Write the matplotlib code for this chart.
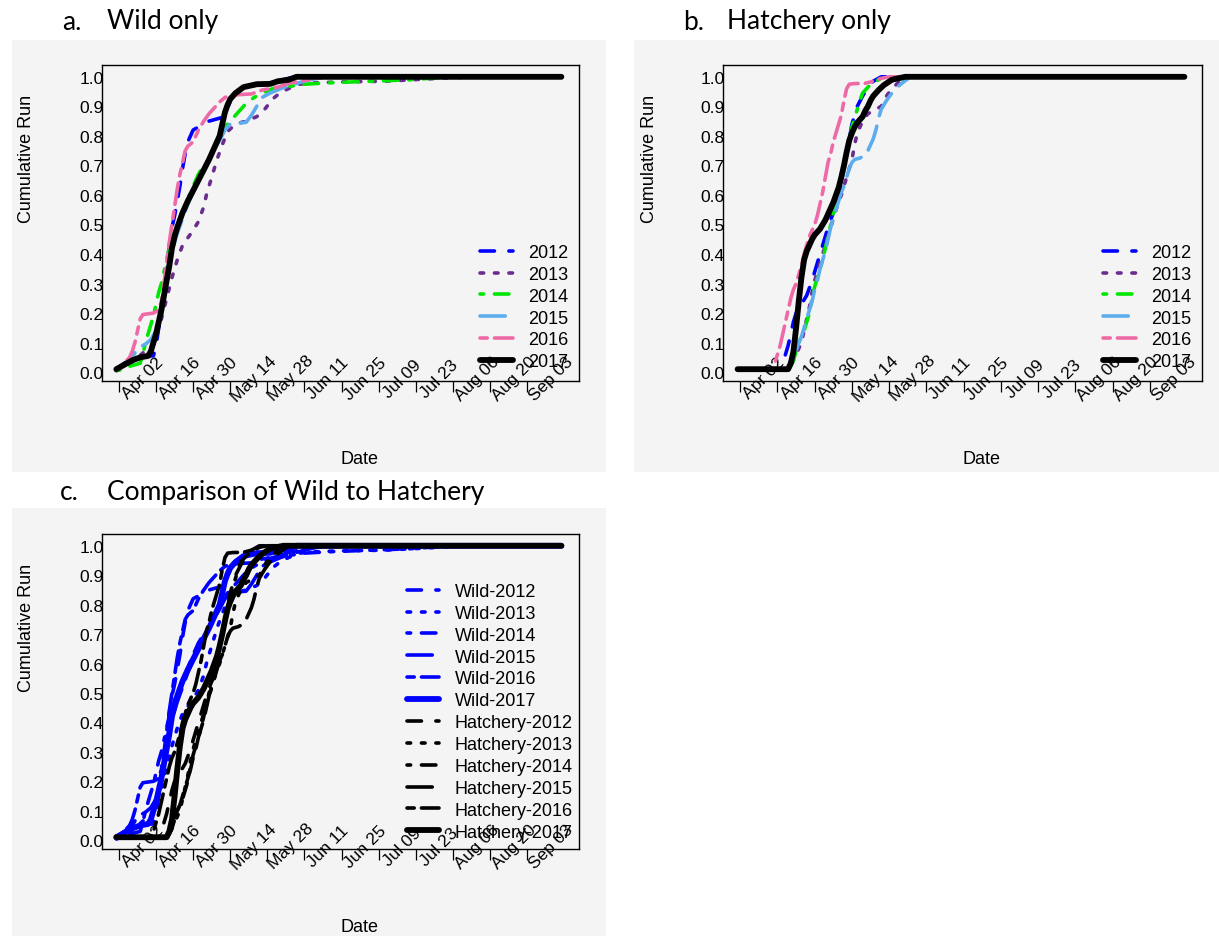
import numpy as np
import matplotlib
matplotlib.use("Agg")
import matplotlib.pyplot as plt
from matplotlib.transforms import offset_copy
from matplotlib.patches import Rectangle

plt.rcParams['font.family'] = ['Liberation Sans', 'DejaVu Sans']

# ---------------- data (day 0 = Apr 02; values = cumulative run fraction) -------------
tick_days = [0, 14, 28, 42, 56, 70, 84, 98, 112, 126, 140, 154]
tick_labels = ["Apr 02", "Apr 16", "Apr 30", "May 14", "May 28", "Jun 11",
               "Jun 25", "Jul 09", "Jul 23", "Aug 06", "Aug 20", "Sep 03"]
ytick_vals = [0.0, 0.1, 0.2, 0.3, 0.4, 0.5, 0.6, 0.7, 0.8, 0.9, 1.0]
years = ["2012", "2013", "2014", "2015", "2016", "2017"]

# Wild
wild_2012_day = [-1, 2, 5, 8, 13, 14, 15, 16, 17, 18, 19, 20, 21, 22, 23, 24, 25, 26, 27, 28,
                 30, 32, 34, 36, 38, 40, 41, 42, 44, 46, 50, 56, 60, 64, 68, 167]
wild_2012_cum = [0.01, 0.03, 0.045, 0.055, 0.055, 0.09, 0.15, 0.2, 0.27, 0.35, 0.43, 0.49, 0.53,
                 0.58, 0.63, 0.69, 0.74, 0.78, 0.80, 0.82, 0.83, 0.84, 0.85, 0.855, 0.86, 0.865,
                 0.89, 0.92, 0.945, 0.96, 0.97, 0.975, 0.985, 0.995, 1.0, 1.0]

wild_2013_day = [-1, 3, 6, 9, 12, 14, 16, 18, 20, 22, 24, 26, 28, 30, 32, 33, 35, 37, 39, 41,
                 44, 48, 52, 55, 58, 61, 64, 68, 75, 85, 100, 115, 125, 135, 167]
wild_2013_cum = [0.005, 0.02, 0.04, 0.065, 0.08, 0.12, 0.18, 0.25, 0.32, 0.38, 0.43, 0.455, 0.48,
                 0.51, 0.56, 0.60, 0.66, 0.72, 0.77, 0.815, 0.84, 0.85, 0.865, 0.89, 0.925, 0.947,
                 0.96, 0.975, 0.98, 0.983, 0.985, 0.992, 0.997, 1.0, 1.0]

wild_2014_day = [-1, 2, 4, 8, 9, 10, 11, 12, 13, 14, 15, 16, 17, 18, 19, 20, 22, 24, 26, 28,
                 30, 32, 34, 36, 38, 40, 42, 44, 46, 48, 51, 54, 58, 64, 70, 80, 95, 110, 125, 167]
wild_2014_cum = [0.005, 0.01, 0.02, 0.03, 0.06, 0.10, 0.13, 0.16, 0.19, 0.23, 0.27, 0.30, 0.34,
                 0.38, 0.42, 0.45, 0.50, 0.54, 0.585, 0.63, 0.67, 0.70, 0.72, 0.76, 0.80, 0.83,
                 0.85, 0.87, 0.89, 0.91, 0.93, 0.945, 0.96, 0.967, 0.975, 0.98, 0.985, 0.99, 1.0, 1.0]

wild_2015_day = [-1, 2, 5, 7, 10, 12, 14, 16, 17, 18, 19, 20, 22, 24, 26, 28, 30, 32, 34, 36,
                 38, 40, 42, 48, 50, 52, 54, 57, 61, 66, 72, 78, 167]
wild_2015_cum = [0.01, 0.025, 0.05, 0.08, 0.095, 0.11, 0.14, 0.19, 0.26, 0.33, 0.38, 0.41, 0.47,
                 0.52, 0.57, 0.61, 0.65, 0.68, 0.72, 0.755, 0.785, 0.82, 0.84, 0.846, 0.87, 0.90,
                 0.93, 0.945, 0.96, 0.975, 0.99, 1.0, 1.0]

wild_2016_day = [-1, 2, 4, 5, 6, 7, 8, 9, 13, 15, 16, 17, 18, 19, 20, 21, 22, 23, 24, 25, 26,
                 28, 30, 32, 34, 36, 38, 40, 42, 50, 54, 60, 65, 72, 78, 167]
wild_2016_cum = [0.005, 0.03, 0.05, 0.07, 0.10, 0.14, 0.18, 0.195, 0.20, 0.21, 0.24, 0.30, 0.37,
                 0.44, 0.50, 0.56, 0.62, 0.67, 0.71, 0.75, 0.765, 0.78, 0.82, 0.85, 0.875, 0.895,
                 0.915, 0.93, 0.938, 0.942, 0.955, 0.965, 0.98, 0.99, 1.0, 1.0]

wild_2017_day = [-1, 2, 5, 8, 11, 12, 13, 14, 15, 16, 17, 18, 19, 20, 21, 22, 24, 26, 28, 30,
                 32, 34, 36, 37, 38, 39, 40, 41, 42, 44, 47, 52, 57, 60, 64, 67, 167]
wild_2017_cum = [0.01, 0.025, 0.04, 0.05, 0.055, 0.07, 0.10, 0.13, 0.17, 0.21, 0.26, 0.31, 0.36,
                 0.42, 0.46, 0.49, 0.54, 0.58, 0.615, 0.65, 0.685, 0.72, 0.76, 0.78, 0.80, 0.84,
                 0.88, 0.905, 0.925, 0.945, 0.965, 0.975, 0.976, 0.985, 0.99, 1.0, 1.0]

# Hatchery
hat_2012_day = [-1, 15, 16, 17, 18, 19, 20, 21, 23, 25, 27, 29, 31, 33, 35, 37, 39, 41, 42, 43,
                44, 46, 48, 50, 53, 167]
hat_2012_cum = [0.01, 0.01, 0.03, 0.06, 0.09, 0.13, 0.17, 0.20, 0.23, 0.26, 0.31, 0.37, 0.43,
                0.49, 0.54, 0.61, 0.70, 0.79, 0.84, 0.87, 0.90, 0.935, 0.965, 0.985, 1.0, 1.0]

hat_2013_day = [-1, 18, 19, 20, 21, 22, 23, 24, 25, 26, 27, 28, 29, 30, 31, 32, 33, 34, 35, 36,
                38, 40, 42, 43, 44, 46, 48, 51, 53, 55, 57, 60, 63, 167]
hat_2013_cum = [0.01, 0.01, 0.02, 0.04, 0.06, 0.08, 0.10, 0.14, 0.18, 0.22, 0.27, 0.31, 0.34,
                0.37, 0.40, 0.43, 0.46, 0.49, 0.52, 0.55, 0.60, 0.66, 0.72, 0.77, 0.81, 0.85,
                0.875, 0.89, 0.90, 0.935, 0.96, 0.985, 1.0, 1.0]

hat_2014_day = [-1, 18, 19, 20, 21, 22, 23, 24, 25, 26, 27, 28, 29, 30, 31, 32, 33, 34, 35, 36,
                37, 38, 39, 40, 41, 42, 43, 44, 45, 46, 48, 50, 53, 56, 167]
hat_2014_cum = [0.01, 0.01, 0.02, 0.04, 0.07, 0.10, 0.12, 0.14, 0.17, 0.20, 0.25, 0.29, 0.32,
                0.35, 0.38, 0.42, 0.46, 0.50, 0.54, 0.57, 0.60, 0.65, 0.70, 0.74, 0.79, 0.83,
                0.86, 0.89, 0.92, 0.945, 0.965, 0.98, 0.995, 1.0, 1.0]

hat_2015_day = [-1, 18, 19, 20, 21, 22, 23, 24, 25, 26, 27, 28, 29, 30, 31, 32, 33, 34, 35, 36,
                37, 38, 39, 40, 41, 42, 43, 45, 47, 48, 49, 50, 51, 52, 53, 55, 57, 59, 61, 64, 167]
hat_2015_cum = [0.01, 0.01, 0.03, 0.05, 0.07, 0.10, 0.12, 0.15, 0.18, 0.21, 0.24, 0.28, 0.31,
                0.35, 0.38, 0.41, 0.45, 0.49, 0.52, 0.55, 0.58, 0.61, 0.63, 0.66, 0.69, 0.71,
                0.72, 0.725, 0.735, 0.75, 0.77, 0.79, 0.82, 0.86, 0.89, 0.92, 0.945, 0.965,
                0.98, 1.0, 1.0]

hat_2016_day = [-1, 12, 13, 14, 15, 16, 17, 18, 19, 20, 21, 22, 23, 24, 25, 26, 28, 29, 30, 31,
                32, 33, 34, 35, 36, 37, 38, 39, 40, 41, 43, 47, 50, 53, 56, 167]
hat_2016_cum = [0.01, 0.01, 0.03, 0.06, 0.09, 0.13, 0.17, 0.21, 0.25, 0.28, 0.30, 0.33, 0.36,
                0.40, 0.43, 0.46, 0.50, 0.53, 0.57, 0.61, 0.66, 0.71, 0.74, 0.78, 0.81, 0.84,
                0.87, 0.92, 0.96, 0.975, 0.977, 0.978, 0.985, 0.995, 1.0, 1.0]

hat_2017_day = [-1, 18, 19, 20, 21, 22, 23, 24, 25, 26, 27, 28, 29, 30, 31, 32, 33, 34, 35, 36,
                37, 38, 39, 40, 41, 42, 43, 44, 45, 46, 47, 48, 49, 50, 52, 54, 57, 62, 167]
hat_2017_cum = [0.01, 0.01, 0.03, 0.07, 0.15, 0.24, 0.32, 0.38, 0.41, 0.43, 0.45, 0.465, 0.475,
                0.485, 0.50, 0.515, 0.535, 0.555, 0.575, 0.60, 0.625, 0.66, 0.70, 0.745, 0.785,
                0.81, 0.83, 0.845, 0.855, 0.865, 0.885, 0.90, 0.92, 0.935, 0.955, 0.972, 0.99,
                1.0, 1.0]

wild_days = [wild_2012_day, wild_2013_day, wild_2014_day, wild_2015_day, wild_2016_day, wild_2017_day]
wild_cums = [wild_2012_cum, wild_2013_cum, wild_2014_cum, wild_2015_cum, wild_2016_cum, wild_2017_cum]
hat_days = [hat_2012_day, hat_2013_day, hat_2014_day, hat_2015_day, hat_2016_day, hat_2017_day]
hat_cums = [hat_2012_cum, hat_2013_cum, hat_2014_cum, hat_2015_cum, hat_2016_cum, hat_2017_cum]

# ---------------- styles ----------------
year_colors = ["#0000FF", "#6A2C8E", "#00E600", "#5CACEE", "#EE6AA7", "#000000"]
year_styles = [(0, (4, 4)), (0, (1, 3)), (0, (1, 3, 4, 3)), (0, (7, 3)), (0, (2, 2, 6, 2)), "-"]
year_widths = [2.6, 2.6, 2.6, 2.6, 2.6, 4.2]
GRAY = "#F4F4F4"

W, H = 1219, 937
fig = plt.figure(figsize=(W / 100, H / 100), dpi=100)
fig.patch.set_facecolor("white")


def fig_rect(l, t, r, b):
    fig.patches.append(Rectangle((l / W, 1 - b / H), (r - l) / W, (b - t) / H,
                                 transform=fig.transFigure, facecolor=GRAY,
                                 edgecolor="none", zorder=-10))


def make_axes(l, t, r, b):
    ax = fig.add_axes([l / W, 1 - b / H, (r - l) / W, (b - t) / H])
    ax.set_facecolor(GRAY)
    ax.set_xlim(-6.6, 173.5)
    ax.set_ylim(-0.03, 1.04)
    ax.set_xticks(tick_days)
    ax.tick_params(axis="x", direction="out", length=8, width=0.9, labelbottom=False)
    ax.set_yticks(ytick_vals)
    ax.set_yticklabels(["%.1f" % v for v in ytick_vals])
    ax.tick_params(axis="y", length=0, pad=-1.5, labelsize=12.5)
    for s in ax.spines.values():
        s.set_linewidth(1.0)
        s.set_color("black")
    for d, lab in zip(tick_days, tick_labels):
        tr = offset_copy(ax.get_xaxis_transform(), fig=fig, x=24, y=3, units="dots")
        ax.text(d, 0, lab, transform=tr, rotation=45, rotation_mode="anchor",
                ha="center", va="center", fontsize=12.5, zorder=1, clip_on=False)
    return ax


def plot_line(ax, days, cum, color, ls, lw, label):
    ax.plot(days, cum, color=color, linestyle=ls, linewidth=lw, label=label,
            dash_capstyle="round", solid_capstyle="round",
            dash_joinstyle="round", solid_joinstyle="round")


def add_legend(ax, left_px, top_px):
    ax.legend(loc="upper left", bbox_to_anchor=(left_px / W, 1 - top_px / H),
              bbox_transform=fig.transFigure, frameon=False, borderpad=0,
              borderaxespad=0, handlelength=1.8, handletextpad=0.85,
              labelspacing=0.27, fontsize=13)


# gray panel backgrounds
fig_rect(11.5, 41, 606, 473)
fig_rect(633.5, 41, 1219, 473)
fig_rect(11.5, 509, 606, 937)

# titles
TFONT = ["Lato", "DejaVu Sans"]
fig.text(62 / W, 1 - 29.5 / H, "a.", fontsize=19, family=TFONT, va="baseline")
fig.text(107 / W, 1 - 29.5 / H, "Wild only", fontsize=19, family=TFONT, va="baseline")
fig.text(683 / W, 1 - 29.5 / H, "b.", fontsize=19, family=TFONT, va="baseline")
fig.text(727 / W, 1 - 29.5 / H, "Hatchery only", fontsize=19, family=TFONT, va="baseline")
fig.text(60 / W, 1 - 500 / H, "c.", fontsize=19, family=TFONT, va="baseline")
fig.text(107 / W, 1 - 500 / H, "Comparison of Wild to Hatchery", fontsize=19, family=TFONT,
         va="baseline")

# panel a
axa = make_axes(101.5, 66, 578.6, 382)
for i, y in enumerate(years):
    plot_line(axa, wild_days[i], wild_cums[i], year_colors[i], year_styles[i], year_widths[i], y)
add_legend(axa, 480, 245)

# panel b
axb = make_axes(722.7, 66, 1201.7, 382)
for i, y in enumerate(years):
    plot_line(axb, hat_days[i], hat_cums[i], year_colors[i], year_styles[i], year_widths[i], y)
add_legend(axb, 1103, 245)

# panel c
axc = make_axes(101.5, 535, 578.6, 850)
for i, y in enumerate(years):
    plot_line(axc, wild_days[i], wild_cums[i], "#0000FF", year_styles[i], year_widths[i],
              "Wild-" + y)
for i, y in enumerate(years):
    plot_line(axc, hat_days[i], hat_cums[i], "#000000", year_styles[i], year_widths[i],
              "Hatchery-" + y)
add_legend(axc, 406.7, 584)

# axis labels
for (x, yc) in [(27, 159), (649, 159), (27, 628)]:
    fig.text(x / W, 1 - yc / H, "Cumulative Run", rotation=90, fontsize=13,
             ha="center", va="center")
for (x, yc) in [(359.5, 459), (982, 459), (359.5, 928)]:
    fig.text(x / W, 1 - yc / H, "Date", fontsize=13, ha="center", va="center")

fig.savefig("out.png", dpi=100, facecolor="white")
